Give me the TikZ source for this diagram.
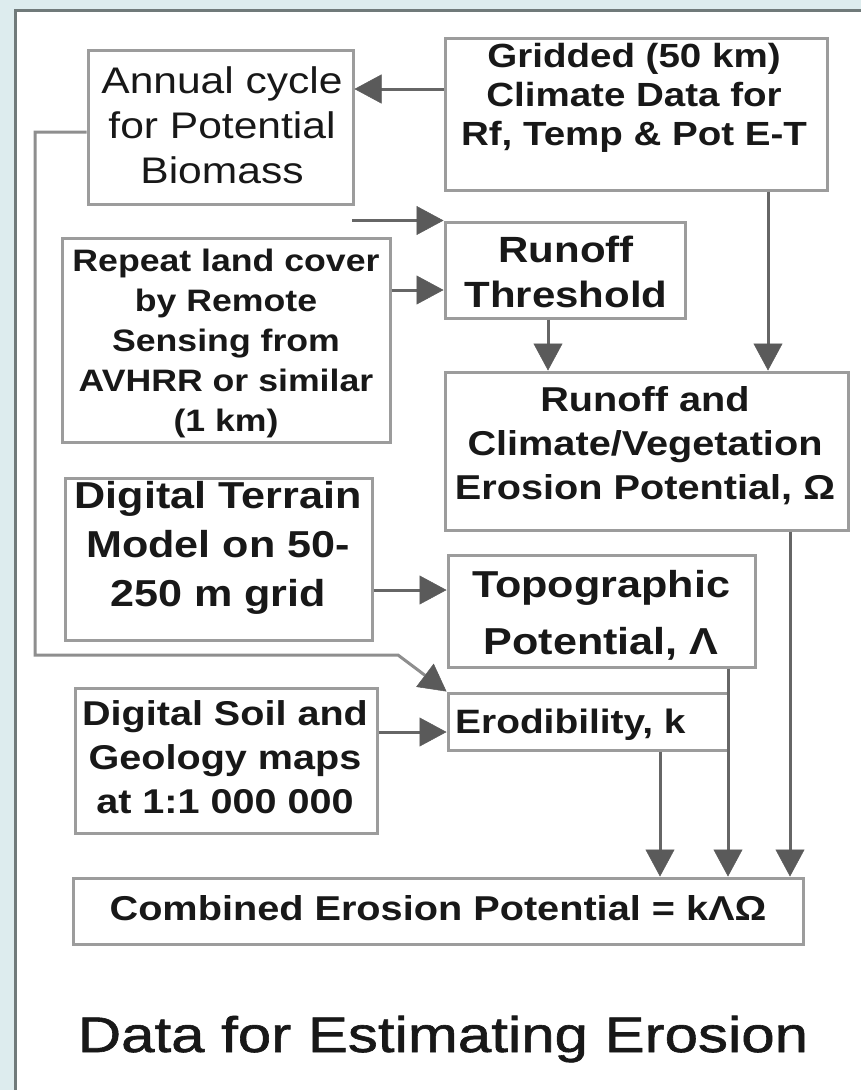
\documentclass[tikz,border=0pt]{standalone}
\usepackage{fontspec}
\setmainfont{Liberation Sans}[FakeStretch=1.15]
\newfontfamily\titlefont{Liberation Sans}[FakeStretch=1.2,FakeBold=1.2]
\usetikzlibrary{arrows.meta}
\definecolor{boxline}{HTML}{9C9C9C}
\definecolor{conn}{HTML}{666666}
\definecolor{route}{HTML}{8E8E8E}
\definecolor{headc}{HTML}{5A5A5A}
\definecolor{ink}{HTML}{181818}
\definecolor{framec}{HTML}{707A7A}
\definecolor{outside}{HTML}{DDECEE}
\begin{document}
\begin{tikzpicture}[x=1pt,y=-1pt,
  box/.style={draw=boxline, line width=3pt, fill=white, inner sep=0pt},
  txt/.style={text=ink, inner sep=0pt, align=center},
  arr/.style={draw=conn, line width=3pt, line join=miter,
    -{Triangle[length=27pt,width=29pt,line width=0.5pt,color=headc,fill=headc]}},
  routearr/.style={arr, draw=route}
]
\useasboundingbox (0,0) rectangle (861,1090);
\fill[outside] (0,0) rectangle (861,1090);
\fill[white] (15,10) rectangle (861,1090);
\draw[framec, line width=3pt] (15,1090) -- (15,10) -- (861,10);

% boxes
\node[box, minimum width=265pt, minimum height=154pt] (ann) at (220.5,127) {};
\node[box, minimum width=382pt, minimum height=152pt] (grid) at (636,114) {};
\node[box, minimum width=240pt, minimum height=96pt] (thr) at (565,270) {};
\node[box, minimum width=328pt, minimum height=204pt] (rep) at (226,340) {};
\node[box, minimum width=403pt, minimum height=158pt] (roc) at (646.5,451) {};
\node[box, minimum width=307pt, minimum height=162pt] (dtm) at (218.5,559) {};
\node[box, minimum width=307pt, minimum height=112pt] (topo) at (601.5,611) {};
\node[box, minimum width=280pt, minimum height=57pt] (erod) at (588,721.5) {};
\node[box, minimum width=302pt, minimum height=145pt] (soil) at (226,760.5) {};
\node[box, minimum width=730pt, minimum height=66pt] (comb) at (438,911) {};

% texts
\node[txt, font=\fontsize{37}{45}\selectfont] (annt) at (222,125) {Annual cycle\\for Potential\\Biomass};
\node[txt, font=\bfseries\fontsize{33.5}{39}\selectfont] (gridt) at (634,98) {Gridded (50 km)\\Climate Data for\\Rf, Temp \& Pot E-T};
\node[txt, font=\bfseries\fontsize{36.5}{45}\selectfont] (thrt) at (566,272) {Runoff\\Threshold};
\node[txt, font=\bfseries\fontsize{31}{40}\selectfont] (rept) at (226,343) {Repeat land cover\\by Remote\\Sensing from\\AVHRR or similar\\(1 km)};
\node[txt, font=\bfseries\fontsize{34.5}{44}\selectfont] (roct) at (645,446) {Runoff and\\Climate/Vegetation\\Erosion Potential, Ω};
\node[txt, font=\bfseries\fontsize{37.5}{49}\selectfont] (dtmt) at (218,548) {Digital Terrain\\Model on 50-\\250 m grid};
\node[txt, font=\bfseries\fontsize{37.5}{57}\selectfont] (topot) at (601,615) {Topographic\\Potential, Λ};
\node[txt, font=\bfseries\fontsize{33.8}{40}\selectfont, anchor=base west] (erodt) at (455,733) {Erodibility, k};
\node[txt, font=\bfseries\fontsize{34.4}{44}\selectfont] (soilt) at (225,757) {Digital Soil and\\Geology maps\\at 1:1 000 000};
\node[txt, font=\bfseries\fontsize{34.5}{40}\selectfont, anchor=base] (combt) at (438,920) {Combined Erosion Potential = kΛΩ};
\node[txt, font=\titlefont\fontsize{50}{60}\selectfont, anchor=base] (title) at (443,1052) {Data for Estimating Erosion};

% connector anchors
\coordinate (g0) at ([yshift=25pt]grid.west);
\coordinate (a0) at ([yshift=38pt]ann.east);
\coordinate (d1) at (352,222);
\coordinate (r0) at ([yshift=50pt]rep.east);
\coordinate (t0) at ([yshift=-20pt]thr.west);
\coordinate (t1) at ([xshift=-17pt]thr.south);
\coordinate (g1) at ([xshift=132pt]grid.south);
\coordinate (dm) at ([yshift=-31pt]dtm.east);
\coordinate (s1) at ([yshift=28.5pt]soil.east);
\coordinate (a1) at ([yshift=-5pt]ann.west);
\coordinate (l1) at (35,655);
\coordinate (l2) at (398,655);
\coordinate (e1) at ([xshift=72pt]erod.south);
\coordinate (p1) at ([xshift=126.5pt]topo.south);
\coordinate (c1) at ([xshift=143.5pt]roc.south);

% connectors
\draw[arr] (g0) -- (a0);
\draw[arr] (d1 |- thr.north west) -- (thr.north west);
\draw[arr] (r0) -- (t0);
\draw[arr] (t1) -- (t1 |- roc.north);
\draw[arr] (g1) -- (g1 |- roc.north);
\draw[arr] (dm) -- (dm -| topo.west);
\draw[arr] (s1) -- (s1 -| erod.west);
\draw[routearr] (a1) -| (l1) -- (l2) -- (erod.north west);
\draw[arr] (e1) -- (e1 |- comb.north);
\draw[arr] (p1) -- (p1 |- comb.north);
\draw[arr] (c1) -- (c1 |- comb.north);
\end{tikzpicture}
\end{document}
